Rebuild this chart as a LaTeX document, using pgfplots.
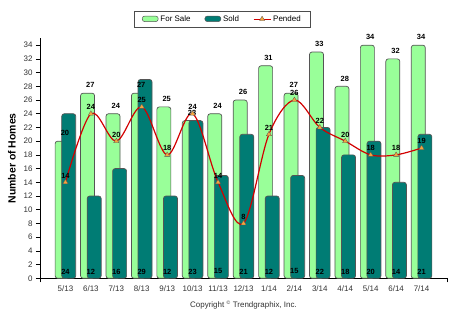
\documentclass[border=0pt]{standalone}
\usepackage{pgfplots}
\pgfplotsset{compat=1.18}
\usepackage{fontspec}
\setmainfont{Liberation Sans}
\definecolor{forsale}{RGB}{153,255,153}
\definecolor{sold}{RGB}{0,124,116}
\definecolor{pended}{RGB}{210,0,0}
\definecolor{mk}{RGB}{245,165,60}
\definecolor{edge}{RGB}{85,85,85}
\definecolor{tl}{RGB}{50,50,50}
\begin{document}
\begin{tikzpicture}
\useasboundingbox (0,0) rectangle (455bp,321bp);
\begin{axis}[
  at={(40bp,42.7bp)}, anchor=south west,
  scale only axis, width=407bp, height=240bp,
  xmin=-1, xmax=15, ymin=0, ymax=35,
  axis lines*=left,
  axis line style={black, line width=0.6pt},
  xtick={0,...,14},
  xticklabels={5/13,6/13,7/13,8/13,9/13,10/13,11/13,12/13,1/14,2/14,3/14,4/14,5/14,6/14,7/14},
  x tick style={draw=none},
  extra x ticks={-1,15}, extra x tick labels={},
  extra x tick style={x tick style={draw=black, line width=0.6pt}, major tick length=4bp, tick align=outside},
  ytick={0,2,...,34},
  y tick style={draw=black, line width=0.6pt},
  major tick length=4bp, tick align=outside,
  ticklabel style={font=\fontsize{8}{9.5}\selectfont, text=tl},
  /pgf/number format/assume math mode=true,
  ylabel={Number of Homes},
  ylabel style={font=\fontsize{10.5}{12}\selectfont\bfseries, at={(axis description cs:-0.069,0.5)}, anchor=center},
  legend columns=3,
  legend style={at={(axis description cs:0.448,1.080)}, anchor=center, draw=black!70, line width=0.6pt,
    font=\fontsize{8}{9.5}\selectfont, inner xsep=8bp, inner ysep=2.5bp,
    /tikz/every even column/.append style={column sep=12bp}},
  clip=false,
]
% For Sale
\addplot[ybar, bar width=14bp, bar shift=-3.3bp, fill=forsale, draw=edge, line width=0.7pt, rounded corners=2.5bp,
  nodes near coords, every node near coord/.append style={font=\fontsize{7.5}{8.5}\selectfont\bfseries, text=black, yshift=1.5bp, xshift=-0.5bp},
  legend image code/.code={\draw[fill=forsale, draw=edge, line width=0.5pt] (0bp,-2.5bp) rectangle (16bp,3bp);}]
  coordinates {(0,20) (1,27) (2,24) (3,27) (4,25) (5,23) (6,24) (7,26) (8,31) (9,27) (10,33) (11,28) (12,34) (13,32) (14,34)};
\addlegendentry{For Sale}
% Sold
\addplot[ybar, bar width=14bp, bar shift=3.3bp, fill=sold, draw=edge, line width=0.7pt, rounded corners=2.5bp,
  legend image code/.code={\draw[fill=sold, draw=edge, line width=0.5pt] (0bp,-2.5bp) rectangle (16bp,3bp);}]
  coordinates {(0,24) (1,12) (2,16) (3,29) (4,12) (5,23) (6,15) (7,21) (8,12) (9,15) (10,22) (11,18) (12,20) (13,14) (14,21)};
\addlegendentry{Sold}
% Pended
\addplot[pended, line width=1.2pt, smooth, tension=0.55, mark=triangle*, mark size=3bp,
  mark options={fill=mk, draw=edge, line width=0.3pt, solid},
  nodes near coords, every node near coord/.append style={font=\fontsize{7.5}{8.5}\selectfont\bfseries, text=black, yshift=0.5bp}]
  coordinates {(0,14) (1,24) (2,20) (3,25) (4,18) (5,24) (6,14) (7,8) (8,21) (9,26) (10,22) (11,20) (12,18) (13,18) (14,19)};
\addlegendentry{Pended}
% Sold labels at bottom
\addplot[draw=none, mark=none, nodes near coords, point meta=explicit symbolic,
  every node near coord/.append style={font=\fontsize{7.5}{8.5}\selectfont\bfseries, text=black, anchor=center}, forget plot]
  coordinates {(0,1)[24] (1,1)[12] (2,1)[16] (3,1)[29] (4,1)[12] (5,1)[23] (6,1)[15] (7,1)[21] (8,1)[12] (9,1)[15] (10,1)[22] (11,1)[18] (12,1)[20] (13,1)[14] (14,1)[21]};
\node[font=\fontsize{8}{9.5}\selectfont, text=tl] at (axis description cs:0.5,-0.111) {Copyright \textsuperscript{\tiny\textcopyright} Trendgraphix, Inc.};
\end{axis}
\end{tikzpicture}
\end{document}
